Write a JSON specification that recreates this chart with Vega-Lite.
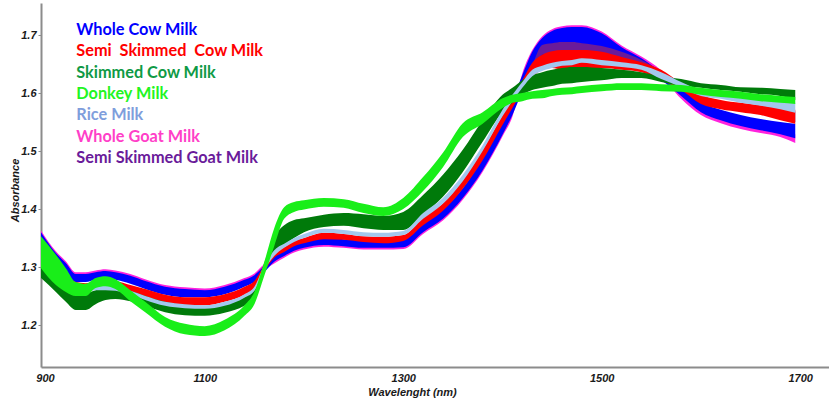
{
"$schema":"https://vega.github.io/schema/vega-lite/v6.json",
"width":788,"height":364,
"autosize":{"type":"none"},
"padding":{"left":41,"top":3,"right":0,"bottom":41},
"background":"white",
"config":{"view":{"stroke":null}},
"layer":[
{
"encoding":{
"x":{"field":"w","type":"quantitative","scale":{"domain":[935,1729],"nice":false,"zero":false},
"axis":{"title":"Wavelenght (nm)","values":[939,1100,1300,1500,1700],"labelExpr":"datum.value < 1000 ? '900' : format(datum.value, 'd')","ticks":false,"grid":false,"domainColor":"#8c8c8c","domainWidth":2,"labelFont":"Liberation Sans","labelFontStyle":"italic","labelFontWeight":"bold","labelFontSize":11,"labelColor":"#1a1a1a","labelPadding":5,"labelFlush":false,"titleFont":"Liberation Sans","titleFontStyle":"italic","titleFontWeight":"bold","titleFontSize":11,"titleColor":"#1a1a1a","titleX":371,"titleY":25,"titleAlign":"center","titleBaseline":"middle"}},
"y":{"field":"lo","type":"quantitative","scale":{"domain":[1.1276,1.7552],"nice":false,"zero":false},
"axis":{"title":"Absorbance","values":[1.2,1.3,1.4,1.5,1.6,1.7],"format":".1f","tickSize":3,"tickColor":"#8c8c8c","domainColor":"#8c8c8c","domainWidth":2,"grid":false,"labelFont":"Liberation Sans","labelFontStyle":"italic","labelFontWeight":"bold","labelFontSize":11,"labelColor":"#1a1a1a","labelPadding":2,"titleFont":"Liberation Sans","titleFontStyle":"italic","titleFontWeight":"bold","titleFontSize":11,"titleColor":"#1a1a1a","titleX":-26,"titleY":187,"titleAlign":"center","titleBaseline":"middle"}},
"y2":{"field":"hi"}
},
"layer":[
{"mark":{"type":"area","interpolate":"monotone"},
"encoding":{"color":{"datum":"Whole Goat Milk","scale":{"domain":["Whole Cow Milk","Semi\u00a0 Skimmed\u00a0 Cow Milk","Skimmed Cow Milk","Donkey Milk","Rice Milk","Whole Goat Milk","Semi Skimmed Goat Milk"],"range":["#0000ff","#ff0000","#007a0a","#19ee19","#a3c8ee","#ff22dd","#6a1b9a"]},
"legend":{"orient":"none","legendX":19,"legendY":19,"title":null,"symbolSize":0,"symbolOpacity":0,"symbolStrokeWidth":0,"labelOffset":0,"labelFont":"Lato","labelFontSize":16.3,"labelFontWeight":"bold","rowPadding":4.3,"labelLimit":400,"padding":0,"encode":{"labels":{"update":{"fill":{"signal":"datum.value == 'Skimmed Cow Milk' ? '#0f9a45' : datum.value == 'Rice Milk' ? '#7f9edc' : datum.value == 'Donkey Milk' ? '#22f522' : datum.value == 'Whole Goat Milk' ? '#ff3fc8' : scale('color', datum.value)"}}}}}}},
"data":{"values":[
{"w":935,"lo":1.353,"hi":1.363},{"w":950,"lo":1.317,"hi":1.327},{"w":960,"lo":1.300,"hi":1.310},{"w":970,"lo":1.281,"hi":1.291},{"w":980,"lo":1.281,"hi":1.291},{"w":990,"lo":1.284,"hi":1.294},{"w":1000,"lo":1.286,"hi":1.296},{"w":1010,"lo":1.284,"hi":1.294},{"w":1025,"lo":1.278,"hi":1.288},{"w":1040,"lo":1.269,"hi":1.279},{"w":1060,"lo":1.259,"hi":1.269},{"w":1080,"lo":1.255,"hi":1.265},{"w":1100,"lo":1.253,"hi":1.263},{"w":1120,"lo":1.259,"hi":1.269},{"w":1140,"lo":1.271,"hi":1.281},{"w":1150,"lo":1.279,"hi":1.289},{"w":1160,"lo":1.295,"hi":1.305},{"w":1170,"lo":1.306,"hi":1.316},{"w":1180,"lo":1.316,"hi":1.326},{"w":1190,"lo":1.325,"hi":1.335},{"w":1200,"lo":1.330,"hi":1.340},{"w":1220,"lo":1.335,"hi":1.345},{"w":1240,"lo":1.333,"hi":1.343},{"w":1260,"lo":1.330,"hi":1.340},{"w":1280,"lo":1.330,"hi":1.340},{"w":1300,"lo":1.331,"hi":1.341},{"w":1320,"lo":1.357,"hi":1.367},{"w":1340,"lo":1.380,"hi":1.390},{"w":1360,"lo":1.416,"hi":1.426},{"w":1380,"lo":1.464,"hi":1.474},{"w":1400,"lo":1.525,"hi":1.535},{"w":1410,"lo":1.559,"hi":1.569},{"w":1420,"lo":1.624,"hi":1.634},{"w":1430,"lo":1.664,"hi":1.674},{"w":1440,"lo":1.688,"hi":1.698},{"w":1450,"lo":1.700,"hi":1.710},{"w":1460,"lo":1.705,"hi":1.715},{"w":1470,"lo":1.707,"hi":1.717},{"w":1480,"lo":1.707,"hi":1.717},{"w":1500,"lo":1.696,"hi":1.706},{"w":1520,"lo":1.672,"hi":1.682},{"w":1540,"lo":1.653,"hi":1.663},{"w":1560,"lo":1.629,"hi":1.639},{"w":1580,"lo":1.590,"hi":1.602},{"w":1600,"lo":1.562,"hi":1.574},{"w":1620,"lo":1.548,"hi":1.560},{"w":1640,"lo":1.538,"hi":1.550},{"w":1660,"lo":1.531,"hi":1.543},{"w":1680,"lo":1.524,"hi":1.536},{"w":1695,"lo":1.514,"hi":1.529}
]}},
{"mark":{"type":"area","interpolate":"monotone"},
"encoding":{"color":{"datum":"Whole Cow Milk"}},
"data":{"values":[
{"w":935,"lo":1.343,"hi":1.360},{"w":950,"lo":1.309,"hi":1.324},{"w":960,"lo":1.291,"hi":1.307},{"w":970,"lo":1.274,"hi":1.288},{"w":980,"lo":1.274,"hi":1.288},{"w":990,"lo":1.278,"hi":1.291},{"w":1000,"lo":1.279,"hi":1.293},{"w":1010,"lo":1.278,"hi":1.291},{"w":1025,"lo":1.271,"hi":1.285},{"w":1040,"lo":1.262,"hi":1.276},{"w":1060,"lo":1.252,"hi":1.266},{"w":1080,"lo":1.248,"hi":1.262},{"w":1100,"lo":1.248,"hi":1.260},{"w":1120,"lo":1.253,"hi":1.266},{"w":1140,"lo":1.266,"hi":1.278},{"w":1150,"lo":1.274,"hi":1.286},{"w":1160,"lo":1.291,"hi":1.302},{"w":1170,"lo":1.309,"hi":1.319},{"w":1180,"lo":1.319,"hi":1.328},{"w":1190,"lo":1.328,"hi":1.338},{"w":1200,"lo":1.333,"hi":1.343},{"w":1220,"lo":1.338,"hi":1.350},{"w":1240,"lo":1.336,"hi":1.348},{"w":1260,"lo":1.333,"hi":1.345},{"w":1280,"lo":1.333,"hi":1.343},{"w":1300,"lo":1.334,"hi":1.347},{"w":1320,"lo":1.360,"hi":1.376},{"w":1340,"lo":1.383,"hi":1.400},{"w":1360,"lo":1.419,"hi":1.436},{"w":1380,"lo":1.467,"hi":1.488},{"w":1400,"lo":1.528,"hi":1.550},{"w":1410,"lo":1.562,"hi":1.588},{"w":1420,"lo":1.602,"hi":1.631},{"w":1430,"lo":1.636,"hi":1.671},{"w":1440,"lo":1.653,"hi":1.695},{"w":1450,"lo":1.657,"hi":1.707},{"w":1460,"lo":1.660,"hi":1.712},{"w":1470,"lo":1.660,"hi":1.714},{"w":1480,"lo":1.660,"hi":1.714},{"w":1500,"lo":1.657,"hi":1.703},{"w":1520,"lo":1.647,"hi":1.679},{"w":1540,"lo":1.640,"hi":1.660},{"w":1560,"lo":1.622,"hi":1.636},{"w":1580,"lo":1.595,"hi":1.609},{"w":1600,"lo":1.567,"hi":1.583},{"w":1620,"lo":1.553,"hi":1.571},{"w":1640,"lo":1.543,"hi":1.562},{"w":1660,"lo":1.536,"hi":1.555},{"w":1680,"lo":1.529,"hi":1.550},{"w":1695,"lo":1.522,"hi":1.547}
]}},
{"mark":{"type":"area","interpolate":"monotone"},
"encoding":{"color":{"datum":"Semi Skimmed Goat Milk"}},
"data":{"values":[
{"w":935,"lo":1.336,"hi":1.347},{"w":950,"lo":1.298,"hi":1.306},{"w":960,"lo":1.282,"hi":1.288},{"w":970,"lo":1.267,"hi":1.271},{"w":980,"lo":1.265,"hi":1.269},{"w":990,"lo":1.267,"hi":1.273},{"w":1000,"lo":1.269,"hi":1.275},{"w":1010,"lo":1.267,"hi":1.273},{"w":1025,"lo":1.260,"hi":1.266},{"w":1040,"lo":1.251,"hi":1.259},{"w":1060,"lo":1.241,"hi":1.249},{"w":1080,"lo":1.237,"hi":1.245},{"w":1100,"lo":1.237,"hi":1.245},{"w":1120,"lo":1.243,"hi":1.250},{"w":1140,"lo":1.255,"hi":1.263},{"w":1150,"lo":1.267,"hi":1.273},{"w":1160,"lo":1.296,"hi":1.300},{"w":1170,"lo":1.319,"hi":1.321},{"w":1180,"lo":1.329,"hi":1.331},{"w":1190,"lo":1.339,"hi":1.342},{"w":1200,"lo":1.344,"hi":1.347},{"w":1220,"lo":1.351,"hi":1.356},{"w":1240,"lo":1.350,"hi":1.354},{"w":1260,"lo":1.346,"hi":1.350},{"w":1280,"lo":1.344,"hi":1.349},{"w":1300,"lo":1.348,"hi":1.352},{"w":1320,"lo":1.375,"hi":1.383},{"w":1340,"lo":1.400,"hi":1.407},{"w":1360,"lo":1.438,"hi":1.447},{"w":1380,"lo":1.487,"hi":1.499},{"w":1400,"lo":1.548,"hi":1.559},{"w":1410,"lo":1.577,"hi":1.590},{"w":1420,"lo":1.605,"hi":1.619},{"w":1430,"lo":1.629,"hi":1.649},{"w":1440,"lo":1.666,"hi":1.683},{"w":1450,"lo":1.669,"hi":1.686},{"w":1460,"lo":1.671,"hi":1.688},{"w":1470,"lo":1.671,"hi":1.688},{"w":1480,"lo":1.671,"hi":1.686},{"w":1500,"lo":1.667,"hi":1.681},{"w":1520,"lo":1.657,"hi":1.671},{"w":1540,"lo":1.643,"hi":1.657},{"w":1560,"lo":1.625,"hi":1.637},{"w":1580,"lo":1.608,"hi":1.614},{"w":1600,"lo":1.584,"hi":1.594},{"w":1620,"lo":1.575,"hi":1.585},{"w":1640,"lo":1.570,"hi":1.580},{"w":1660,"lo":1.565,"hi":1.576},{"w":1680,"lo":1.556,"hi":1.571},{"w":1695,"lo":1.550,"hi":1.568}
]}},
{"mark":{"type":"area","interpolate":"monotone"},
"encoding":{"color":{"datum":"Semi\u00a0 Skimmed\u00a0 Cow Milk"}},
"data":{"values":[
{"w":935,"lo":1.333,"hi":1.350},{"w":950,"lo":1.295,"hi":1.309},{"w":960,"lo":1.279,"hi":1.291},{"w":970,"lo":1.264,"hi":1.274},{"w":980,"lo":1.262,"hi":1.272},{"w":990,"lo":1.264,"hi":1.276},{"w":1000,"lo":1.266,"hi":1.278},{"w":1010,"lo":1.264,"hi":1.276},{"w":1025,"lo":1.257,"hi":1.269},{"w":1040,"lo":1.248,"hi":1.262},{"w":1060,"lo":1.238,"hi":1.252},{"w":1080,"lo":1.234,"hi":1.248},{"w":1100,"lo":1.234,"hi":1.248},{"w":1120,"lo":1.240,"hi":1.253},{"w":1140,"lo":1.252,"hi":1.266},{"w":1150,"lo":1.264,"hi":1.276},{"w":1160,"lo":1.293,"hi":1.303},{"w":1170,"lo":1.316,"hi":1.324},{"w":1180,"lo":1.326,"hi":1.334},{"w":1190,"lo":1.336,"hi":1.345},{"w":1200,"lo":1.341,"hi":1.350},{"w":1220,"lo":1.348,"hi":1.359},{"w":1240,"lo":1.347,"hi":1.357},{"w":1260,"lo":1.343,"hi":1.353},{"w":1280,"lo":1.341,"hi":1.352},{"w":1300,"lo":1.345,"hi":1.355},{"w":1320,"lo":1.372,"hi":1.386},{"w":1340,"lo":1.397,"hi":1.410},{"w":1360,"lo":1.435,"hi":1.450},{"w":1380,"lo":1.484,"hi":1.502},{"w":1400,"lo":1.545,"hi":1.562},{"w":1410,"lo":1.574,"hi":1.593},{"w":1420,"lo":1.602,"hi":1.622},{"w":1430,"lo":1.626,"hi":1.652},{"w":1440,"lo":1.640,"hi":1.666},{"w":1450,"lo":1.643,"hi":1.672},{"w":1460,"lo":1.640,"hi":1.674},{"w":1470,"lo":1.640,"hi":1.674},{"w":1480,"lo":1.640,"hi":1.674},{"w":1500,"lo":1.643,"hi":1.671},{"w":1520,"lo":1.640,"hi":1.662},{"w":1540,"lo":1.636,"hi":1.653},{"w":1560,"lo":1.622,"hi":1.640},{"w":1580,"lo":1.605,"hi":1.617},{"w":1600,"lo":1.581,"hi":1.597},{"w":1620,"lo":1.572,"hi":1.588},{"w":1640,"lo":1.567,"hi":1.583},{"w":1660,"lo":1.562,"hi":1.579},{"w":1680,"lo":1.553,"hi":1.574},{"w":1695,"lo":1.547,"hi":1.571}
]}},
{"mark":{"type":"area","interpolate":"monotone"},
"encoding":{"color":{"datum":"Skimmed Cow Milk"}},
"data":{"values":[
{"w":935,"lo":1.281,"hi":1.319},{"w":950,"lo":1.257,"hi":1.291},{"w":960,"lo":1.240,"hi":1.269},{"w":970,"lo":1.226,"hi":1.255},{"w":980,"lo":1.226,"hi":1.255},{"w":990,"lo":1.236,"hi":1.260},{"w":1000,"lo":1.243,"hi":1.264},{"w":1010,"lo":1.245,"hi":1.264},{"w":1025,"lo":1.241,"hi":1.259},{"w":1040,"lo":1.233,"hi":1.250},{"w":1060,"lo":1.222,"hi":1.240},{"w":1080,"lo":1.217,"hi":1.234},{"w":1100,"lo":1.216,"hi":1.231},{"w":1120,"lo":1.221,"hi":1.236},{"w":1140,"lo":1.233,"hi":1.250},{"w":1150,"lo":1.245,"hi":1.260},{"w":1160,"lo":1.291,"hi":1.307},{"w":1170,"lo":1.324,"hi":1.352},{"w":1180,"lo":1.338,"hi":1.372},{"w":1190,"lo":1.350,"hi":1.381},{"w":1200,"lo":1.360,"hi":1.384},{"w":1220,"lo":1.369,"hi":1.390},{"w":1240,"lo":1.371,"hi":1.393},{"w":1260,"lo":1.367,"hi":1.391},{"w":1280,"lo":1.364,"hi":1.388},{"w":1300,"lo":1.364,"hi":1.395},{"w":1320,"lo":1.390,"hi":1.424},{"w":1340,"lo":1.421,"hi":1.459},{"w":1360,"lo":1.464,"hi":1.502},{"w":1380,"lo":1.516,"hi":1.553},{"w":1400,"lo":1.567,"hi":1.597},{"w":1410,"lo":1.583,"hi":1.609},{"w":1420,"lo":1.597,"hi":1.622},{"w":1430,"lo":1.605,"hi":1.631},{"w":1440,"lo":1.609,"hi":1.636},{"w":1450,"lo":1.612,"hi":1.640},{"w":1460,"lo":1.616,"hi":1.643},{"w":1470,"lo":1.617,"hi":1.645},{"w":1480,"lo":1.619,"hi":1.645},{"w":1500,"lo":1.622,"hi":1.643},{"w":1520,"lo":1.626,"hi":1.640},{"w":1540,"lo":1.626,"hi":1.636},{"w":1560,"lo":1.619,"hi":1.629},{"w":1580,"lo":1.612,"hi":1.624},{"w":1600,"lo":1.609,"hi":1.617},{"w":1620,"lo":1.605,"hi":1.614},{"w":1640,"lo":1.602,"hi":1.610},{"w":1660,"lo":1.598,"hi":1.609},{"w":1680,"lo":1.595,"hi":1.607},{"w":1695,"lo":1.588,"hi":1.605}
]}},
{"mark":{"type":"area","interpolate":"monotone"},
"encoding":{"color":{"datum":"Rice Milk"}},
"data":{"values":[
{"w":935,"lo":1.326,"hi":1.340},{"w":950,"lo":1.288,"hi":1.298},{"w":960,"lo":1.272,"hi":1.281},{"w":970,"lo":1.259,"hi":1.266},{"w":980,"lo":1.257,"hi":1.262},{"w":990,"lo":1.260,"hi":1.267},{"w":1000,"lo":1.260,"hi":1.269},{"w":1010,"lo":1.259,"hi":1.266},{"w":1025,"lo":1.252,"hi":1.259},{"w":1040,"lo":1.243,"hi":1.250},{"w":1060,"lo":1.233,"hi":1.240},{"w":1080,"lo":1.229,"hi":1.236},{"w":1100,"lo":1.228,"hi":1.234},{"w":1120,"lo":1.233,"hi":1.240},{"w":1140,"lo":1.247,"hi":1.253},{"w":1150,"lo":1.259,"hi":1.266},{"w":1160,"lo":1.295,"hi":1.303},{"w":1170,"lo":1.319,"hi":1.329},{"w":1180,"lo":1.333,"hi":1.340},{"w":1190,"lo":1.343,"hi":1.350},{"w":1200,"lo":1.350,"hi":1.357},{"w":1220,"lo":1.359,"hi":1.366},{"w":1240,"lo":1.357,"hi":1.364},{"w":1260,"lo":1.353,"hi":1.360},{"w":1280,"lo":1.352,"hi":1.359},{"w":1300,"lo":1.355,"hi":1.362},{"w":1320,"lo":1.383,"hi":1.393},{"w":1340,"lo":1.409,"hi":1.419},{"w":1360,"lo":1.448,"hi":1.459},{"w":1380,"lo":1.500,"hi":1.510},{"w":1400,"lo":1.560,"hi":1.571},{"w":1410,"lo":1.586,"hi":1.597},{"w":1420,"lo":1.609,"hi":1.619},{"w":1430,"lo":1.629,"hi":1.640},{"w":1440,"lo":1.638,"hi":1.647},{"w":1450,"lo":1.643,"hi":1.652},{"w":1460,"lo":1.647,"hi":1.655},{"w":1470,"lo":1.648,"hi":1.657},{"w":1480,"lo":1.652,"hi":1.660},{"w":1500,"lo":1.648,"hi":1.657},{"w":1520,"lo":1.645,"hi":1.653},{"w":1540,"lo":1.640,"hi":1.648},{"w":1560,"lo":1.624,"hi":1.636},{"w":1580,"lo":1.610,"hi":1.619},{"w":1600,"lo":1.595,"hi":1.605},{"w":1620,"lo":1.590,"hi":1.598},{"w":1640,"lo":1.583,"hi":1.593},{"w":1660,"lo":1.578,"hi":1.590},{"w":1680,"lo":1.572,"hi":1.586},{"w":1695,"lo":1.566,"hi":1.583}
]}},
{"mark":{"type":"area","interpolate":"monotone"},
"encoding":{"color":{"datum":"Donkey Milk"}},
"data":{"values":[
{"w":935,"lo":1.298,"hi":1.353},{"w":950,"lo":1.269,"hi":1.321},{"w":960,"lo":1.257,"hi":1.298},{"w":970,"lo":1.250,"hi":1.274},{"w":980,"lo":1.250,"hi":1.271},{"w":990,"lo":1.264,"hi":1.281},{"w":1000,"lo":1.267,"hi":1.284},{"w":1010,"lo":1.262,"hi":1.279},{"w":1025,"lo":1.241,"hi":1.260},{"w":1040,"lo":1.222,"hi":1.240},{"w":1060,"lo":1.197,"hi":1.214},{"w":1080,"lo":1.184,"hi":1.202},{"w":1100,"lo":1.181,"hi":1.198},{"w":1120,"lo":1.191,"hi":1.209},{"w":1140,"lo":1.216,"hi":1.234},{"w":1150,"lo":1.236,"hi":1.257},{"w":1160,"lo":1.285,"hi":1.309},{"w":1170,"lo":1.336,"hi":1.367},{"w":1180,"lo":1.383,"hi":1.403},{"w":1190,"lo":1.395,"hi":1.412},{"w":1200,"lo":1.399,"hi":1.415},{"w":1220,"lo":1.404,"hi":1.419},{"w":1240,"lo":1.402,"hi":1.417},{"w":1260,"lo":1.393,"hi":1.409},{"w":1280,"lo":1.388,"hi":1.403},{"w":1300,"lo":1.400,"hi":1.419},{"w":1320,"lo":1.431,"hi":1.455},{"w":1340,"lo":1.472,"hi":1.497},{"w":1360,"lo":1.524,"hi":1.548},{"w":1380,"lo":1.547,"hi":1.567},{"w":1400,"lo":1.574,"hi":1.591},{"w":1410,"lo":1.583,"hi":1.597},{"w":1420,"lo":1.586,"hi":1.600},{"w":1430,"lo":1.590,"hi":1.603},{"w":1440,"lo":1.591,"hi":1.605},{"w":1450,"lo":1.595,"hi":1.607},{"w":1460,"lo":1.597,"hi":1.609},{"w":1470,"lo":1.598,"hi":1.610},{"w":1480,"lo":1.600,"hi":1.612},{"w":1500,"lo":1.603,"hi":1.615},{"w":1520,"lo":1.605,"hi":1.617},{"w":1540,"lo":1.605,"hi":1.617},{"w":1560,"lo":1.603,"hi":1.615},{"w":1580,"lo":1.602,"hi":1.614},{"w":1600,"lo":1.597,"hi":1.609},{"w":1620,"lo":1.593,"hi":1.605},{"w":1640,"lo":1.590,"hi":1.602},{"w":1660,"lo":1.586,"hi":1.598},{"w":1680,"lo":1.583,"hi":1.595},{"w":1695,"lo":1.581,"hi":1.593}
]}}
]
},
{"mark":{"type":"rule","color":"#a0a0a0","strokeWidth":1.5,"opacity":0.85},
"encoding":{"y":{"datum":1.4413}}}
]
}
